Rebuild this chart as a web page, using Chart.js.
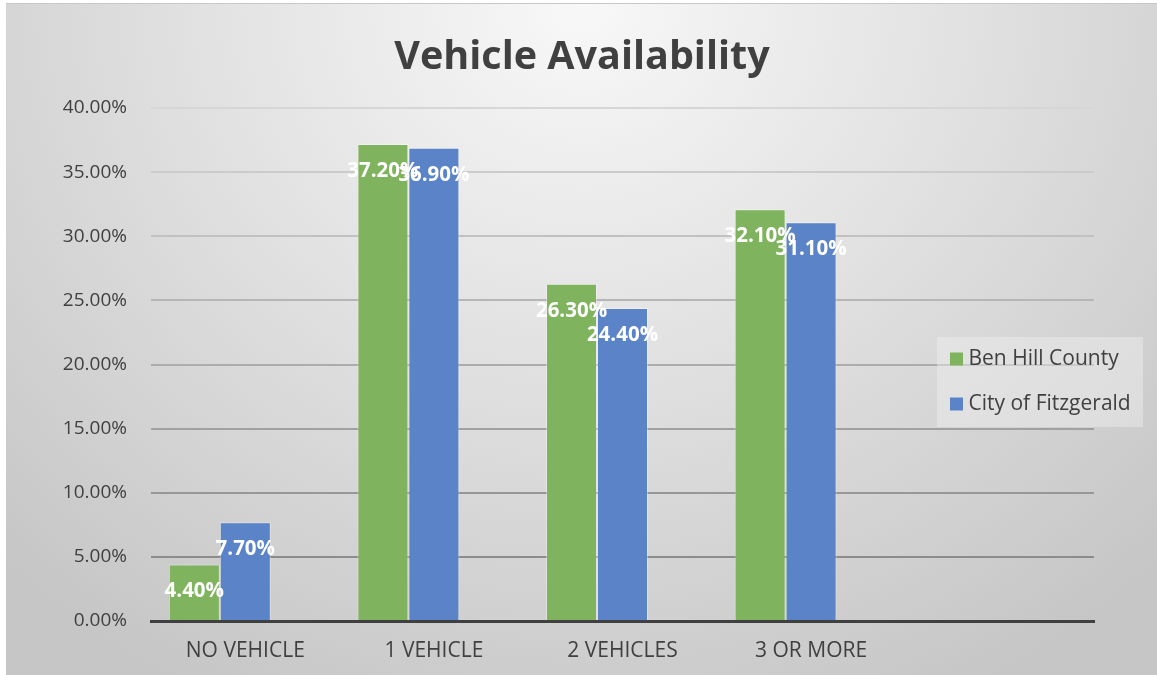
<!DOCTYPE html>
<html>
<head>
<meta charset="utf-8">
<script src="https://cdn.jsdelivr.net/npm/chart.js@4.4.1/dist/chart.umd.min.js"></script>
<style>
  html, body { margin: 0; padding: 0; background: #fff; }
  #wrap {
    position: absolute; left: 6px; top: 3px; width: 1151px; height: 672px;
    border-top: 1px solid #c8c8c8; box-sizing: border-box;
    background: radial-gradient(ellipse 72% 115% at 50% 0%, #f8f8f8 0%, #e2e2e2 45%, #c6c6c6 100%);
  }
  #chart { display: block; }
</style>
</head>
<body>
<div id="wrap"><canvas id="chart" width="1151" height="671"></canvas></div>
<script>
const chartTitle = "Vehicle Availability";
const categories = ["NO VEHICLE", "1 VEHICLE", "2 VEHICLES", "3 OR MORE", ""];
const benHill = [4.4, 37.2, 26.3, 32.1];
const fitzgerald = [7.7, 36.9, 24.4, 31.1];
const blankSeries = [];
const yTicks = [0, 5, 10, 15, 20, 25, 30, 35, 40];

const FONT = "'Open Sans', 'DejaVu Sans', sans-serif";
const TEXT = "#404040";

function gridColor(value) {
  if (value === 0) return "rgba(0,0,0,0)";
  const lvl = Math.round(0x8c + (value - 5) / 35 * (0xd6 - 0x8c));
  return `rgb(${lvl},${lvl},${lvl})`;
}

// title drawn over the full canvas width (the built-in one centres on the padded box)
const titleText = {
  id: "titleText",
  afterDraw(chart) {
    const { ctx } = chart;
    ctx.save();
    ctx.font = `bold 39.5px ${FONT}`;
    ctx.fillStyle = TEXT;
    ctx.textAlign = "center";
    ctx.textBaseline = "alphabetic";
    ctx.fillText(chartTitle, chart.width / 2 + 0.5, 64.5);
    ctx.restore();
  }
};

const valueLabels = {
  id: "valueLabels",
  afterDatasetsDraw(chart) {
    const { ctx } = chart;
    ctx.save();
    ctx.font = `bold 20.5px ${FONT}`;
    ctx.fillStyle = "#ffffff";
    ctx.textAlign = "center";
    ctx.textBaseline = "middle";
    chart.data.datasets.forEach((ds, i) => {
      if (!ds.showValues) return;
      chart.getDatasetMeta(i).data.forEach((bar, j) => {
        ctx.fillText(`${ds.data[j].toFixed(2)}%`, bar.x, bar.y + 27);
      });
    });
    ctx.restore();
  }
};

const sideLegend = {
  id: "sideLegend",
  afterDraw(chart) {
    const { ctx } = chart;
    const items = chart.data.datasets.filter((ds) => ds.label);
    ctx.save();
    ctx.fillStyle = "rgba(240,240,240,0.45)";
    ctx.fillRect(931, 333, 206, 90);
    ctx.font = `21px ${FONT}`;
    ctx.textBaseline = "middle";
    items.forEach((ds, i) => {
      const cy = 355 + i * 45;
      ctx.fillStyle = ds.backgroundColor;
      ctx.fillRect(944, cy - 6.5, 13, 13);
      ctx.fillStyle = TEXT;
      ctx.fillText(ds.label, 962.5, cy);
    });
    ctx.restore();
  }
};

new Chart(document.getElementById("chart"), {
  type: "bar",
  data: {
    labels: categories,
    datasets: [
      { label: "Ben Hill County", data: benHill, backgroundColor: "#7fb35d", borderColor: "rgba(255,255,255,0.35)", borderWidth: 1, showValues: true },
      { label: "City of Fitzgerald", data: fitzgerald, backgroundColor: "#5a83c8", borderColor: "rgba(255,255,255,0.35)", borderWidth: 1, showValues: true },
      { label: "", data: blankSeries, backgroundColor: "rgba(0,0,0,0)" }
    ]
  },
  options: {
    responsive: false,
    animation: false,
    events: [],
    datasets: { bar: { categoryPercentage: 0.811, barPercentage: 1 } },
    layout: { padding: { left: 0, right: 63, top: 104, bottom: 0 } },
    plugins: {
      legend: { display: false },
      tooltip: { enabled: false },
      title: { display: false }
    },
    scales: {
      x: {
        grid: { display: false, drawTicks: false },
        border: { display: true, color: "#404040", width: 3, z: 1 },
        ticks: { color: TEXT, font: { family: FONT, size: 21 }, padding: 17, maxRotation: 0, autoSkip: false },
        afterFit: (scale) => { scale.height = 54; }
      },
      y: {
        min: 0, max: 40,
        afterBuildTicks: (scale) => { scale.ticks = yTicks.map((v) => ({ value: v })); },
        grid: { color: (c) => gridColor(c.tick.value), lineWidth: 2, drawTicks: false },
        border: { display: false },
        ticks: { color: TEXT, font: { family: FONT, size: 19 }, padding: 24, callback: (v) => `${Number(v).toFixed(2)}%` },
        afterFit: (scale) => { scale.width = 145; }
      }
    }
  },
  plugins: [valueLabels, sideLegend, titleText]
});
</script>
</body>
</html>
